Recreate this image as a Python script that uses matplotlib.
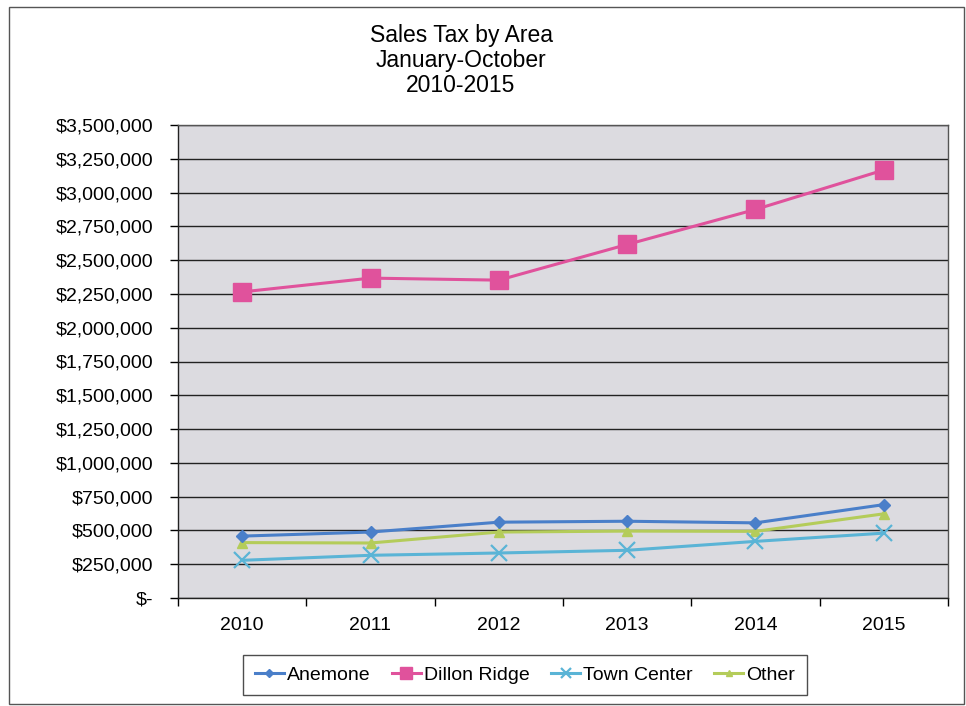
import matplotlib
matplotlib.use("Agg")
import matplotlib.pyplot as plt
from matplotlib.ticker import FuncFormatter, FixedLocator, NullFormatter
from matplotlib.patches import Rectangle

plt.rcParams['font.family'] = ['Liberation Sans', 'DejaVu Sans']

years = ["2010", "2011", "2012", "2013", "2014", "2015"]
anemone = [458000, 488000, 561000, 568000, 556000, 691000]
dillon_ridge = [2265000, 2367000, 2352000, 2616000, 2875000, 3167000]
town_center = [279000, 316000, 333000, 353000, 419000, 480000]
other = [410000, 407000, 488000, 495000, 493000, 623000]

series_names = ["Anemone", "Dillon Ridge", "Town Center", "Other"]

fig = plt.figure(figsize=(9.66, 7.06), dpi=100)
ax = fig.add_axes([178/966, 1-598/706, (948-178)/966, (598-125)/706])
ax.set_facecolor('#dcdbe0')

x = list(range(len(years)))
ax.plot(x, anemone, color='#4a7fc9', lw=2.2, marker='D', ms=6.5, label=series_names[0], zorder=4)
ax.plot(x, dillon_ridge, color='#e0529c', lw=2.2, marker='s', ms=13, label=series_names[1], zorder=4)
ax.plot(x, town_center, color='#5ab4d6', lw=2.2, marker='x', ms=11, mew=1.6, label=series_names[2], zorder=4)
ax.plot(x, other, color='#b4cc5a', lw=2.2, marker='^', ms=7.5, label=series_names[3], zorder=3)

ax.set_xlim(-0.5, len(years) - 0.5)
ax.set_ylim(0, 3500000)
ax.set_yticks(range(0, 3500001, 250000))

def money(v, pos):
    if v == 0:
        return "$-"
    return "${:,.0f}".format(v)

ax.yaxis.set_major_formatter(FuncFormatter(money))
ax.set_xticks(x)
ax.set_xticklabels(years)
ax.xaxis.set_minor_locator(FixedLocator([i - 0.5 for i in range(len(years) + 1)]))
ax.xaxis.set_minor_formatter(NullFormatter())
ax.tick_params(axis='x', which='major', length=0, pad=14, labelsize=14)
ax.tick_params(axis='x', which='minor', length=6, width=1, direction='out')
ax.tick_params(axis='y', length=6, width=1, direction='out', labelsize=14, pad=12)

ax.grid(axis='y', color='#222222', lw=1.0)
ax.set_axisbelow(True)
for s in ax.spines.values():
    s.set_color('#555555')
    s.set_linewidth(1.0)
ax.spines['bottom'].set_color('#222222')
ax.spines['left'].set_color('#222222')

fig.text(461/966, 1-42/706, "Sales Tax by Area", ha='center', va='baseline', fontsize=16.5)
fig.text(461/966, 1-67/706, "January-October", ha='center', va='baseline', fontsize=16.5)
fig.text(461/966, 1-92/706, "2010-2015", ha='center', va='baseline', fontsize=16.5)

leg = fig.legend(loc='center', bbox_to_anchor=(525/966, 1-675/706), ncol=4, fontsize=14,
                 frameon=True, fancybox=False, edgecolor='#222222', handlelength=1.5,
                 handletextpad=0.15, columnspacing=1.1, borderpad=0.6, markerscale=0.65)
leg.get_frame().set_linewidth(1.0)

fig.add_artist(Rectangle((9/966, 2/706), (964-9)/966, (699-2)/706, transform=fig.transFigure,
                         fill=False, edgecolor='#555555', lw=1.0))

fig.savefig("out.png", dpi=100)
